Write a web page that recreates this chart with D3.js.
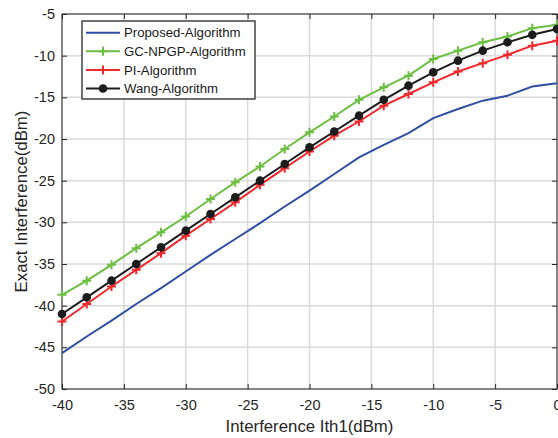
<!DOCTYPE html>
<html><head><meta charset="utf-8">
<script src="https://cdn.jsdelivr.net/npm/d3@7"></script>
<style>body{margin:0;background:#fff}svg{display:block}text{font-family:"Liberation Sans",Arial,sans-serif}</style>
</head><body><div id="chart"></div>
<script>
const xValues = [-40,-38,-36,-34,-32,-30,-28,-26,-24,-22,-20,-18,-16,-14,-12,-10,-8,-6,-4,-2,0];
const proposed = [-45.7,-43.7,-41.8,-39.8,-37.9,-35.9,-33.9,-32.0,-30.1,-28.1,-26.2,-24.2,-22.2,-20.7,-19.3,-17.5,-16.4,-15.4,-14.8,-13.7,-13.3];
const gcnpgp = [-38.7,-37.0,-35.1,-33.1,-31.2,-29.3,-27.2,-25.2,-23.3,-21.2,-19.2,-17.3,-15.3,-13.8,-12.4,-10.4,-9.4,-8.4,-7.7,-6.7,-6.3];
const pi = [-41.9,-39.8,-37.7,-35.7,-33.7,-31.6,-29.6,-27.6,-25.5,-23.5,-21.5,-19.6,-17.9,-16.0,-14.6,-13.2,-11.9,-10.9,-9.9,-8.8,-8.2];
const wang = [-41.0,-39.0,-37.0,-35.0,-33.0,-31.0,-29.0,-27.0,-25.0,-23.0,-21.0,-19.1,-17.2,-15.3,-13.6,-12.0,-10.6,-9.4,-8.4,-7.5,-6.8];
const seriesNames = ["Proposed-Algorithm","GC-NPGP-Algorithm","PI-Algorithm","Wang-Algorithm"];
const xTicks = [-40,-35,-30,-25,-20,-15,-10,-5,0];
const yTicks = [-50,-45,-40,-35,-30,-25,-20,-15,-10,-5];
const xLabel = "Interference Ith1(dBm)";
const yLabel = "Exact Interference(dBm)";

const W = 558, H = 438;
const m = {left:62, right:1, top:14, bottom:49};
const svg = d3.select("#chart").append("svg").attr("width",W).attr("height",H);
const x = d3.scaleLinear().domain([-40,0]).range([m.left, W-m.right]);
const y = d3.scaleLinear().domain([-50,-5]).range([H-m.bottom, m.top]);

const series = [
  {name:seriesNames[0], vals:proposed, color:"#2f4fa3", marker:null},
  {name:seriesNames[1], vals:gcnpgp, color:"#6cbf42", marker:"plus"},
  {name:seriesNames[2], vals:pi, color:"#ef2a2d", marker:"plus"},
  {name:seriesNames[3], vals:wang, color:"#1c1c1c", marker:"dot"}
];

// grid
const g = svg.append("g");
g.selectAll(".gx").data(xTicks).join("line").attr("x1",d=>x(d)).attr("x2",d=>x(d))
  .attr("y1",y(-50)).attr("y2",y(-5)).attr("stroke","#dadada").attr("stroke-width",1.5);
g.selectAll(".gy").data(yTicks).join("line").attr("y1",d=>y(d)).attr("y2",d=>y(d))
  .attr("x1",x(-40)).attr("x2",x(0)).attr("stroke","#dadada").attr("stroke-width",1.5);

// axes
const axisColor = "#262626";
const fmt = d => String(d);
function styleAxis(sel){ sel.select(".domain").remove(); sel.selectAll("line").attr("stroke",axisColor);
  sel.selectAll("text").attr("fill","#262626").style("font-size","14.5px"); }
svg.append("g").attr("transform",`translate(0,${y(-50)})`)
  .call(d3.axisBottom(x).tickValues(xTicks).tickSizeInner(-5).tickSizeOuter(0).tickPadding(11).tickFormat(fmt))
  .call(styleAxis);
svg.append("g").attr("transform",`translate(0,${y(-5)})`)
  .call(d3.axisTop(x).tickValues(xTicks).tickSizeInner(-5).tickSizeOuter(0).tickFormat(""))
  .call(styleAxis);
svg.append("g").attr("transform",`translate(${x(-40)},0)`)
  .call(d3.axisLeft(y).tickValues(yTicks).tickSizeInner(-5).tickSizeOuter(0).tickPadding(7).tickFormat(fmt))
  .call(styleAxis);
svg.append("g").attr("transform",`translate(${x(0)},0)`)
  .call(d3.axisRight(y).tickValues(yTicks).tickSizeInner(-5).tickSizeOuter(0).tickFormat(""))
  .call(styleAxis);
svg.append("rect").attr("x",x(-40)).attr("y",y(-5)).attr("width",x(0)-x(-40)).attr("height",y(-50)-y(-5))
  .attr("fill","none").attr("stroke",axisColor).attr("stroke-width",1);

// lines
const line = d3.line().x((d,i)=>x(xValues[i])).y(d=>y(d));
function drawMarker(sel, type, color, cx, cy){
  if(type==="plus"){
    sel.append("path").attr("d",`M${cx-4.5},${cy}H${cx+4.5}M${cx},${cy-4.5}V${cy+4.5}`)
      .attr("stroke",color).attr("stroke-width",2).attr("fill","none");
  } else if(type==="dot"){
    sel.append("circle").attr("cx",cx).attr("cy",cy).attr("r",4.3).attr("fill",color);
  }
}
series.forEach(s=>{
  svg.append("path").datum(s.vals).attr("d",line).attr("fill","none")
    .attr("stroke",s.color).attr("stroke-width",2);
  if(s.marker){
    const mg = svg.append("g");
    s.vals.forEach((v,i)=>drawMarker(mg, s.marker, s.color, x(xValues[i]), y(v)));
  }
});

// legend
const lg = svg.append("g");
lg.append("rect").attr("x",82).attr("y",21).attr("width",173).attr("height",78)
  .attr("fill","#fff").attr("stroke","#262626").attr("stroke-width",1.3);
series.forEach((s,i)=>{
  const cy = 32.7 + i*18.6;
  lg.append("line").attr("x1",86).attr("x2",120).attr("y1",cy).attr("y2",cy)
    .attr("stroke",s.color).attr("stroke-width",2);
  if(s.marker) drawMarker(lg, s.marker, s.color, 103, cy);
  lg.append("text").attr("x",124).attr("y",cy+4.7).text(s.name)
    .style("font-size","13.2px").attr("fill","#1a1a1a");
});

// titles
svg.append("text").attr("x",(x(-40)+x(0))/2).attr("y",432).attr("text-anchor","middle")
  .style("font-size","16.8px").attr("fill","#262626").text(xLabel);
svg.append("text").attr("transform",`translate(27,${(y(-50)+y(-5))/2}) rotate(-90)`).attr("text-anchor","middle")
  .style("font-size","16.8px").attr("fill","#262626").text(yLabel);
</script></body></html>
